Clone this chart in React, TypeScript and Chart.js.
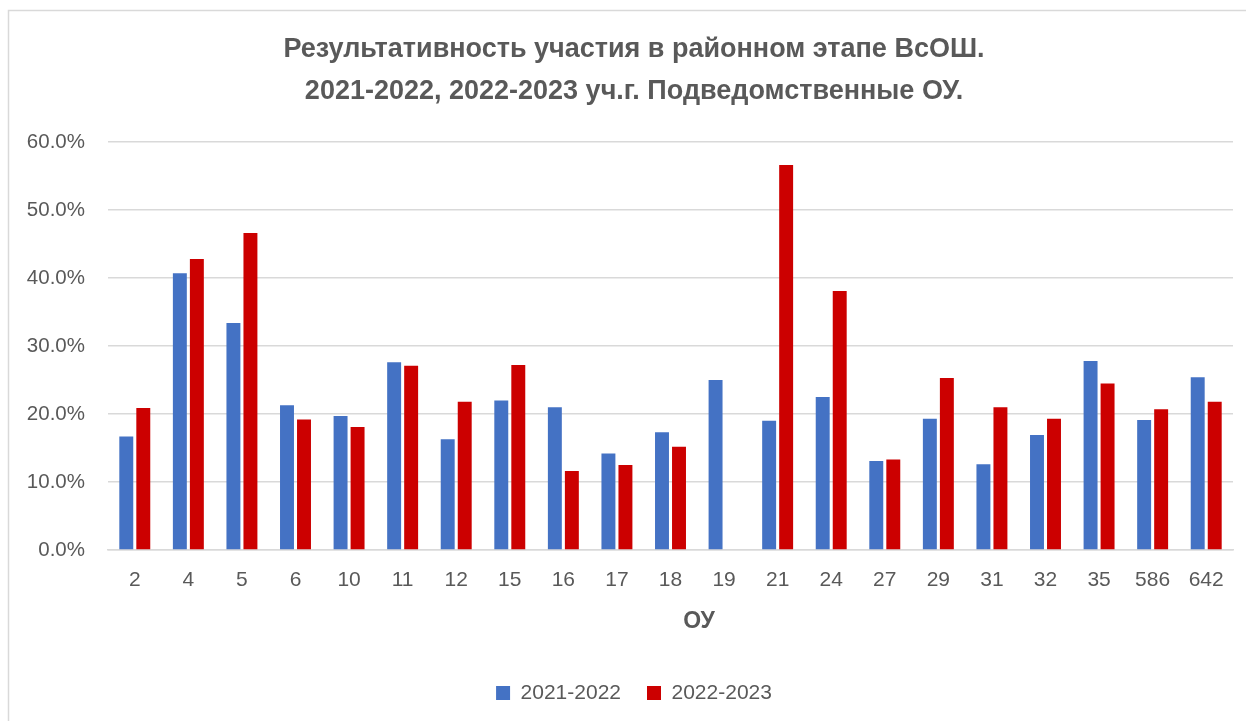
import React, { useEffect, useRef } from "react";
import { Chart, registerables } from "chart.js";

Chart.register(...registerables);

const categories = ["2", "4", "5", "6", "10", "11", "12", "15", "16", "17", "18", "19", "21", "24", "27", "29", "31", "32", "35", "586", "642"];
const series2021 = [16.7, 40.7, 33.4, 21.3, 19.7, 27.6, 16.3, 22.0, 21.0, 14.2, 17.3, 25.0, 19.0, 22.5, 13.1, 19.3, 12.6, 16.9, 27.8, 19.1, 25.4];
const series2022 = [20.9, 42.8, 46.6, 19.2, 18.1, 27.1, 21.8, 27.2, 11.6, 12.5, 15.2, null, 56.6, 38.1, 13.3, 25.3, 21.0, 19.3, 24.5, 20.7, 21.8];
const seriesLabels = ["2021-2022", "2022-2023"];
const titleLines = ["Результативность участия в районном этапе ВсОШ.", "2021-2022, 2022-2023 уч.г. Подведомственные ОУ."];
const xAxisTitle = "ОУ";
const yMax = 60;
const yStep = 10;

const TEXT = "#595959";
const GRID = "#d9d9d9";
const FONT = "'Liberation Sans', Arial, sans-serif";

export default function App() {
  const ref = useRef<HTMLCanvasElement | null>(null);

  useEffect(() => {
    if (!ref.current) return;
    const framePlugin = {
      id: "frame",
      beforeDraw(chart: any) {
        const ctx = chart.ctx;
        ctx.save();
        ctx.fillStyle = "#ffffff";
        ctx.fillRect(0, 0, chart.width, chart.height);
        ctx.strokeStyle = GRID;
        ctx.lineWidth = 1.5;
        ctx.beginPath();
        ctx.moveTo(8.5, chart.height);
        ctx.lineTo(8.5, 10.5);
        ctx.lineTo(chart.width, 10.5);
        ctx.stroke();
        ctx.restore();
      },
      afterDraw(chart: any) {
        const ctx = chart.ctx;
        ctx.save();
        ctx.fillStyle = TEXT;
        ctx.font = `bold 23px ${FONT}`;
        ctx.textAlign = "center";
        ctx.textBaseline = "middle";
        ctx.fillText(xAxisTitle, 699, 622);
        ctx.restore();
      },
    };

    const chart = new Chart(ref.current, {
      type: "bar",
      data: {
        labels: categories,
        datasets: [
          {
            label: seriesLabels[0],
            data: series2021,
            backgroundColor: "#4472C4",
            categoryPercentage: 0.635,
            barPercentage: 0.82,
          },
          {
            label: seriesLabels[1],
            data: series2022,
            backgroundColor: "#CC0000",
            categoryPercentage: 0.635,
            barPercentage: 0.82,
          },
        ],
      },
      options: {
        responsive: false,
        animation: false,
        devicePixelRatio: 1,
        layout: { padding: { left: 22, right: 0, top: 0, bottom: 7.5 } },
        plugins: {
          tooltip: { enabled: false },
          title: {
            display: true,
            text: titleLines,
            color: TEXT,
            font: { family: FONT, size: 27, weight: "bold", lineHeight: 42 / 27 },
            padding: { top: 29, bottom: 29 },
          },
          legend: {
            display: true,
            position: "bottom",
            labels: {
              boxWidth: 14,
              boxHeight: 14,
              color: TEXT,
              padding: 26,
              font: { family: FONT, size: 21 },
            },
          },
        },
        scales: {
          x: {
            offset: true,
            grid: { display: false, drawTicks: false },
            border: { display: true, color: GRID, width: 1.5 },
            ticks: { color: TEXT, font: { family: FONT, size: 21 }, padding: 18, maxRotation: 0, autoSkip: false },
            afterFit(scale: any) {
              scale.height = 106.5;
            },
          },
          y: {
            min: 0,
            max: yMax,
            grid: { color: GRID, lineWidth: 1.5, drawTicks: false },
            border: { display: false },
            ticks: {
              stepSize: yStep,
              color: TEXT,
              padding: 23,
              font: { family: FONT, size: 20.5 },
              callback: (v: any) => Number(v).toFixed(1) + "%",
            },
            afterFit(scale: any) {
              scale.width = 86;
            },
          },
          yRight: {
            position: "right",
            min: 0,
            max: yMax,
            grid: { display: false, drawTicks: false },
            border: { display: false },
            ticks: { display: false },
            afterFit(scale: any) {
              scale.width = 13;
            },
          },
        },
      },
      plugins: [framePlugin],
    });
    return () => chart.destroy();
  }, []);

  return (
    <div style={{ position: "absolute", left: 0, top: 0, width: 1246, height: 721, background: "#fff" }}>
      <canvas ref={ref} width={1246} height={721} style={{ display: "block", width: 1246, height: 721 }} />
    </div>
  );
}
